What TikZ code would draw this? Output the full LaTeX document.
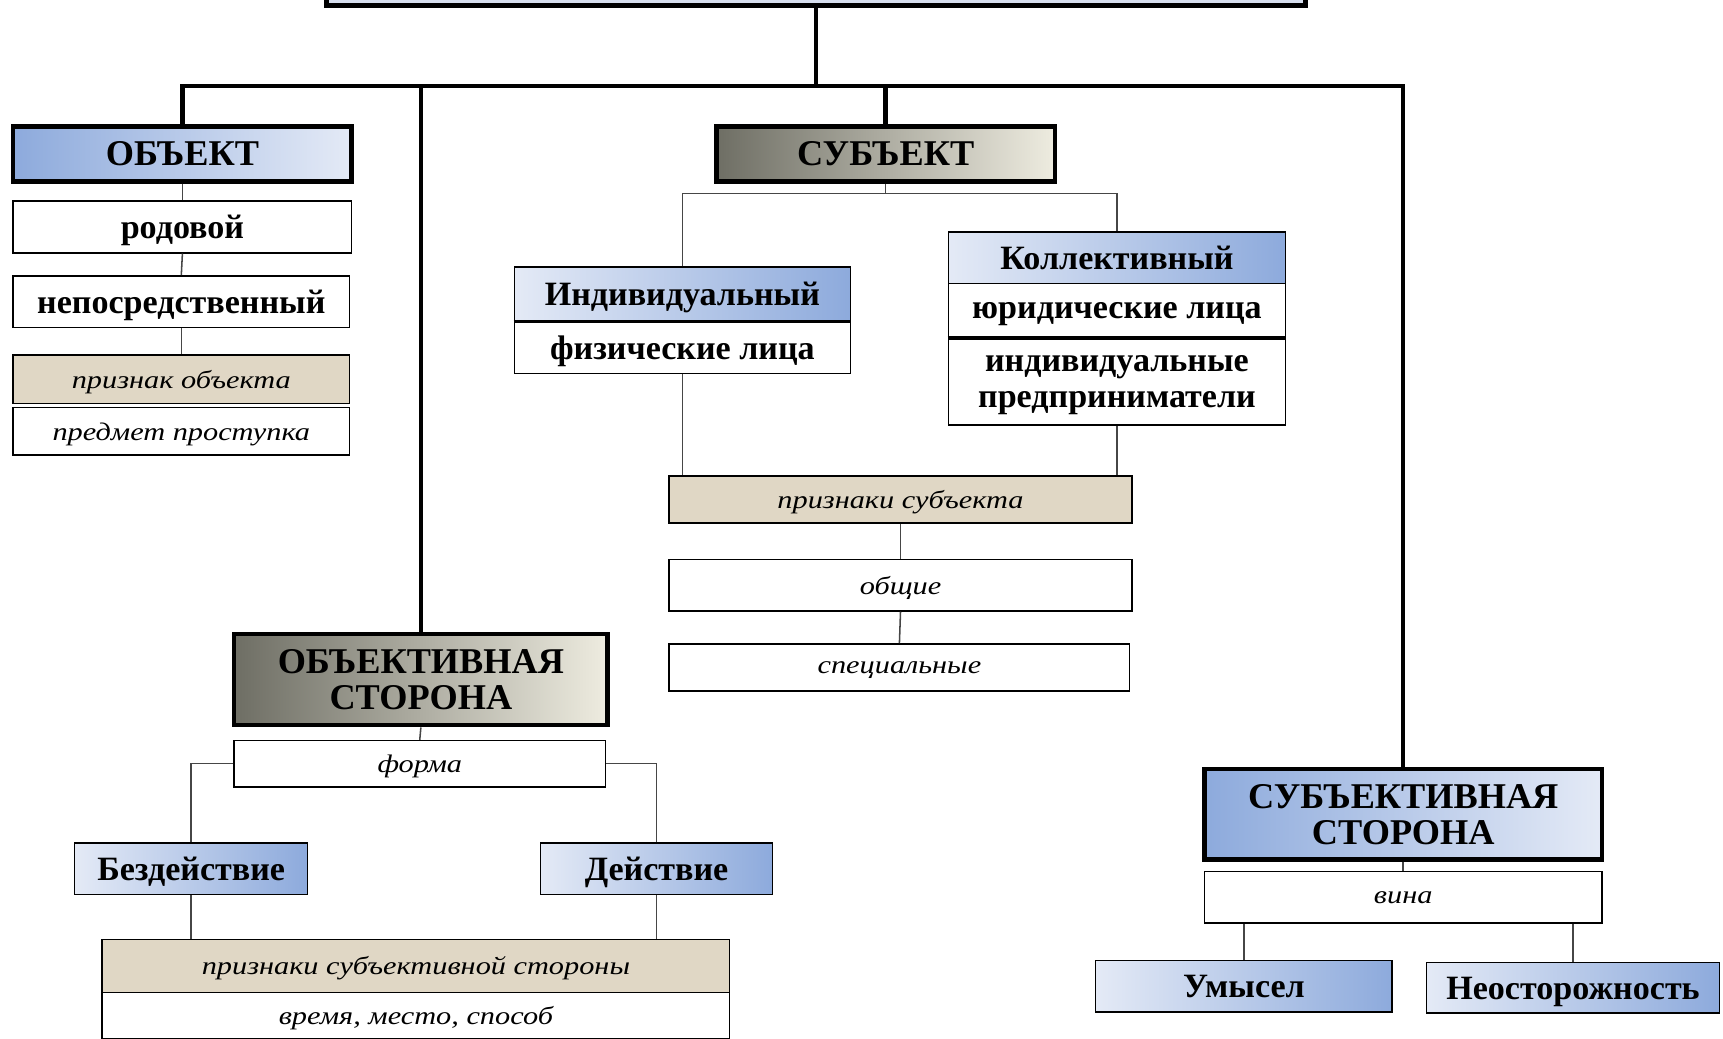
\documentclass[tikz,border=0pt]{standalone}
\usepackage{fontspec}
\setmainfont{Liberation Serif}
\newfontfamily\wideit[FakeStretch=1.2]{Liberation Serif}
\definecolor{blueD}{RGB}{141,170,220}
\definecolor{blueL}{RGB}{228,234,246}
\definecolor{topc}{RGB}{214,222,238}
\definecolor{grayD}{RGB}{110,110,100}
\definecolor{beigeL}{RGB}{238,236,224}
\definecolor{tanc}{RGB}{224,215,197}
\definecolor{linec}{RGB}{70,70,70}
\begin{document}
\begin{tikzpicture}[x=1pt,y=-1pt,
  base/.style={draw=black, line width=1.4pt, inner sep=0pt, align=center, text=black, text depth=0pt},
  head/.style={base, line width=4pt, font=\fontsize{33}{33}\selectfont\bfseries},
  bold/.style={base, fill=white, font=\fontsize{31}{33}\selectfont\bfseries},
  ital/.style={base, fill=white, font=\fontsize{23}{26}\wideit\itshape},
  tanbox/.style={ital, fill=tanc},
  bluelr/.style={left color=blueL, right color=blueD},
  bluerl/.style={left color=blueD, right color=blueL},
  grayrl/.style={left color=grayD, right color=beigeL},
  bus/.style={line width=4pt, black},
  conn/.style={line width=1.4pt, linec}
]
\useasboundingbox (0,0) rectangle (1568,945);

% top (cut) box
\node[head, fill=topc, minimum width=891pt, minimum height=65pt] (top) at (742.5,-27.5) {};

% OBJECT column
\node[head, bluerl, minimum width=308pt, minimum height=50pt] (obj) at (166,140) {ОБЪЕКТ};
\node[bold, minimum width=308pt, minimum height=47pt] (rod) at (166,206.5) {родовой};
\node[bold, minimum width=306pt, minimum height=47pt] (nep) at (165,274.5) {непосредственный};
\node[tanbox, minimum width=306pt, minimum height=44pt] (priz1) at (165,345) {признак объекта};
\node[ital, minimum width=306pt, minimum height=43pt] (pred) at (165,392.5) {предмет проступка};

% SUBJECT column
\node[head, grayrl, minimum width=308pt, minimum height=50pt] (subj) at (806,140) {СУБЪЕКТ};
\node[bold, bluelr, minimum width=306pt, minimum height=49pt] (ind) at (621,267.5) {Индивидуальный};
\node[bold, minimum width=306pt, minimum height=48pt] (fiz) at (621,316) {физические лица};
\node[bold, bluelr, minimum width=307pt, minimum height=47pt] (kol) at (1016.5,234.5) {Коллективный};
\node[bold, minimum width=307pt, minimum height=49pt] (yur) at (1016.5,282.5) {юридические лица};
\node[bold, minimum width=307pt, minimum height=80pt] (ip) at (1016.5,347) {индивидуальные\\предприниматели};
\draw[line width=3pt] (ind.south west) -- (ind.south east);
\draw[line width=3pt] (yur.south west) -- (yur.south east);
\node[tanbox, minimum width=421pt, minimum height=43pt] (priz2) at (819.5,454.5) {признаки субъекта};
\node[ital, minimum width=421pt, minimum height=47pt] (obsh) at (819.5,532.5) {общие};
\node[ital, minimum width=419pt, minimum height=43pt] (spec) at (818.5,607.5) {специальные};

% OBJECTIVE SIDE
\node[head, grayrl, minimum width=340pt, minimum height=83pt] (objst) at (383,618.5) {ОБЪЕКТИВНАЯ\\СТОРОНА};
\node[ital, minimum width=338pt, minimum height=42pt] (forma) at (382,695) {форма};
\node[bold, bluelr, minimum width=212pt, minimum height=47pt] (bez) at (174,790.5) {Бездействие};
\node[bold, bluelr, minimum width=211pt, minimum height=47pt] (deys) at (597.5,790.5) {Действие};
\node[tanbox, minimum width=571pt, minimum height=48pt] (priz3) at (378.5,879) {признаки субъективной стороны};
\node[ital, minimum width=571pt, minimum height=42pt] (vrem) at (378.5,924) {время, место, способ};

% SUBJECTIVE SIDE
\node[head, bluerl, minimum width=362pt, minimum height=82pt] (subjst) at (1277,741) {СУБЪЕКТИВНАЯ\\СТОРОНА};
\node[ital, minimum width=362pt, minimum height=47pt] (vina) at (1277,816.5) {вина};
\node[bold, bluelr, minimum width=270pt, minimum height=47pt] (umy) at (1132,897.5) {Умысел};
\node[bold, bluelr, minimum width=267pt, minimum height=46pt] (neo) at (1431.5,899) {Неосторожность};

% bus connectors
\coordinate (busL) at (166,78);
\draw[bus] (obj.north) -- (obj.north |- busL) -| (subjst.north);
\draw[bus] (top.south) -- (top.south |- busL);
\draw[bus] (objst.north) -- (objst.north |- busL);
\draw[bus] (subj.north) -- (subj.north |- busL);

% thin connectors
\draw[conn] (obj.south) -- (rod.north);
\draw[conn] (rod.south) -- (nep.north);
\draw[conn] (nep.south) -- (priz1.north);

\coordinate (sj) at (806,176);
\draw[conn] (subj.south) -- (sj);
\draw[conn] (ind.north) |- (kol.north |- sj) -- (kol.north);
\draw[conn] (fiz.south) -- (fiz.south |- priz2.north);
\draw[conn] (ip.south) -- (ip.south |- priz2.north);
\draw[conn] (priz2.south) -- (obsh.north);
\draw[conn] (obsh.south) -- (spec.north);

\draw[conn] (objst.south) -- (forma.north);
\draw[conn] (forma.west) -| (bez.north);
\draw[conn] (forma.east) -| (deys.north);
\draw[conn] (bez.south) -- (bez.south |- priz3.north);
\draw[conn] (deys.south) -- (deys.south |- priz3.north);

\draw[conn] (subjst.south) -- (vina.north);
\draw[conn] (umy.north |- vina.south) -- (umy.north);
\draw[conn] (neo.north |- vina.south) -- (neo.north);
\end{tikzpicture}
\end{document}
